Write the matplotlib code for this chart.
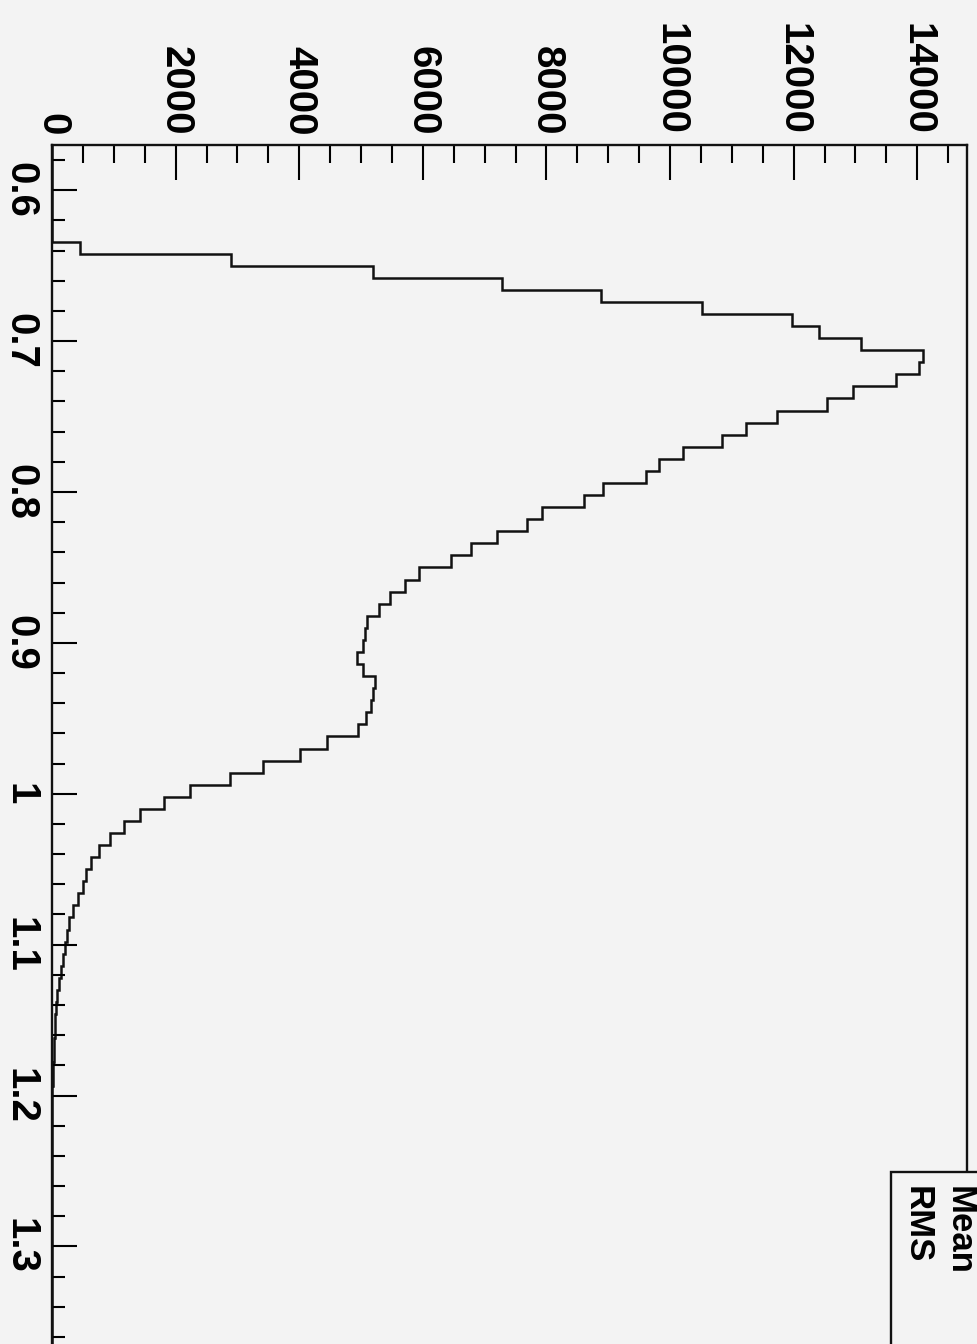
import numpy as np
import matplotlib
matplotlib.use('Agg')
import matplotlib.pyplot as plt
from matplotlib.patches import Rectangle
from matplotlib.ticker import MultipleLocator

plt.rcParams['font.family'] = ['Liberation Sans', 'DejaVu Sans']
plt.rcParams['font.weight'] = 'bold'

# histogram: 100 bins from 0.57 to 1.37
x_lo, x_hi, nbins = 0.57, 1.37, 100
counts = [0, 0, 0, 0, 0, 0, 0, 0,
          460, 2900, 5195, 7280, 8880, 10515, 11975, 12410, 13090, 14100,
          14025, 13660, 12965, 12545, 11730, 11225, 10840, 10210, 9820, 9610,
          8915, 8610, 7925, 7680, 7195, 6785, 6455, 5945, 5715, 5470,
          5290, 5100, 5060, 5035, 4940, 5035, 5220, 5200, 5160, 5085,
          4955, 4455, 4005, 3410, 2880, 2235, 1820, 1425, 1165, 940,
          765, 625, 555, 495, 420, 345, 280, 235, 210, 180,
          140, 115, 85, 65, 55, 45, 35, 25, 18, 12,
          8, 5, 3, 2, 1] + [0] * 17
edges = np.linspace(x_lo, x_hi, nbins + 1)

bg = '#f3f3f3'
W, H = 977, 1344
fig = plt.figure(figsize=(W / 100, H / 100), dpi=100, facecolor=bg)

# axes in pixel terms: left 52, right 967, top 145, bottom ~1352 (cropped)
ax = fig.add_axes([52 / W, 1 - 1352 / H, (967 - 52) / W, (1352 - 145) / H])
ax.set_facecolor(bg)

ax.stairs(counts, edges, orientation='horizontal', color='#111111', lw=1.8)

ax.set_xlim(0, max(counts) * 1.05)
ax.set_ylim(x_hi, x_lo)

for s in ax.spines.values():
    s.set_linewidth(1.7)
    s.set_color('#111111')

ax.xaxis.tick_top()
ax.xaxis.set_major_locator(MultipleLocator(2000))
ax.xaxis.set_minor_locator(MultipleLocator(500))
ax.yaxis.set_major_locator(MultipleLocator(0.1))
ax.yaxis.set_minor_locator(MultipleLocator(0.02))

ax.tick_params(axis='x', which='major', direction='in', length=25, width=1.5,
               labelsize=29, pad=7, labelrotation=-90, top=True, bottom=False)
ax.tick_params(axis='x', which='minor', direction='in', length=13, width=1.5,
               top=True, bottom=False)
ax.tick_params(axis='y', which='major', direction='in', length=18, width=1.5,
               labelsize=29, pad=9, labelrotation=-90, left=True, right=False)
ax.tick_params(axis='y', which='minor', direction='in', length=9, width=1.5,
               left=True, right=False)

ax.set_xticks(range(0, 14001, 2000))
ax.set_xticklabels([str(v) for v in range(0, 14001, 2000)])
yt = [0.6, 0.7, 0.8, 0.9, 1.0, 1.1, 1.2, 1.3]
ax.set_yticks(yt)
ax.set_yticklabels(['0.6', '0.7', '0.8', '0.9', '1', '1.1', '1.2', '1.3'],
                   va='center')

# stats box (cut off at the corner)
fig.patches.append(Rectangle((891 / W, -0.05), 0.2, 1 - 1172 / H + 0.05,
                             transform=fig.transFigure, facecolor=bg,
                             edgecolor='#111111', lw=1.7, zorder=5))
fig.text(959 / W, 1 - 1186 / H, 'Mean', rotation=-90, ha='center', va='top',
         fontsize=25, zorder=6)
fig.text(917 / W, 1 - 1186 / H, 'RMS', rotation=-90, ha='center', va='top',
         fontsize=25, zorder=6)

fig.savefig('out.png', dpi=100, facecolor=bg)
